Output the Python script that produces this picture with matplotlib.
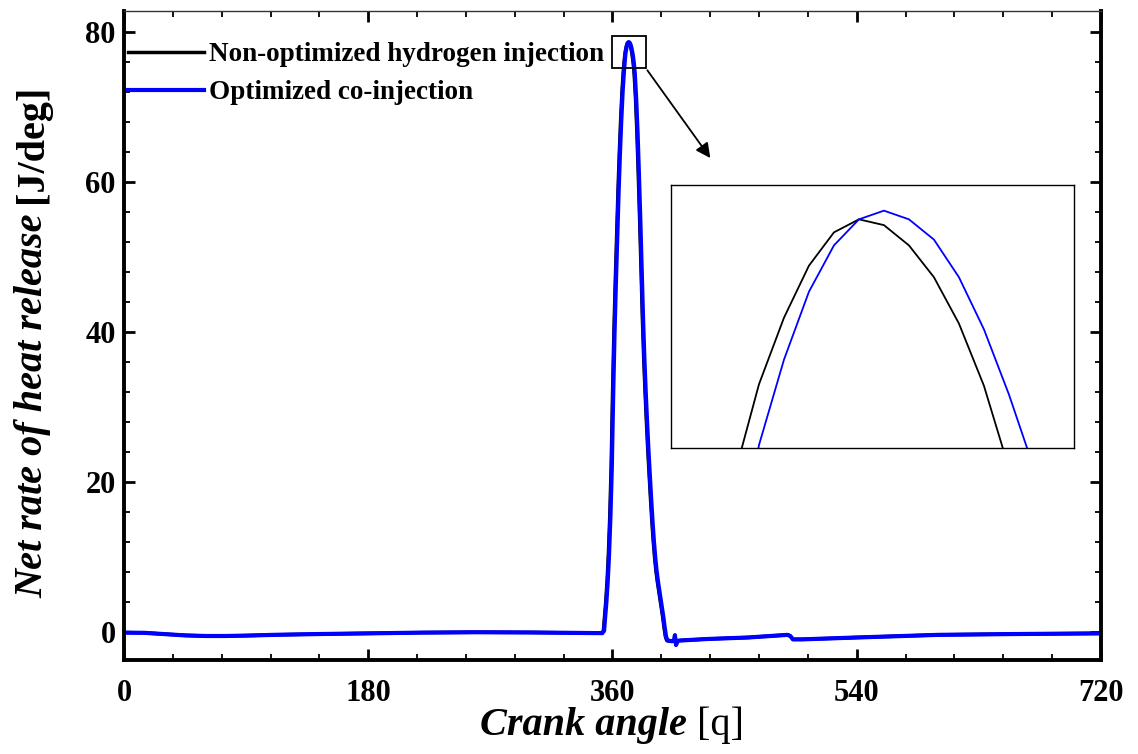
import matplotlib
matplotlib.use("Agg")
import matplotlib.pyplot as plt
from matplotlib.patches import Rectangle
from matplotlib.ticker import MultipleLocator
from matplotlib.transforms import IdentityTransform
import numpy as np

plt.rcParams["font.family"] = "serif"
plt.rcParams["font.serif"] = ["Liberation Serif", "DejaVu Serif"]
plt.rcParams["font.weight"] = "bold"

# baseline before and after combustion (shared by both cases)
pre_ca = [0, 15, 30, 45, 60, 75, 90, 110, 140, 180, 220, 260, 300, 340]
pre_hrr = [-0.05, -0.08, -0.25, -0.42, -0.5, -0.5, -0.45, -0.35, -0.25, -0.15, -0.05, 0.0, -0.03, -0.1]
post_ca = [402, 404, 405.5, 406, 406.8, 408, 410, 430, 460, 489, 491, 493, 500, 540, 600, 650, 720]
post_hrr = [-1.15, -1.2, -1.0, -0.4, -1.7, -1.15, -1.1, -0.9, -0.7, -0.35, -0.5, -0.95, -0.95, -0.7, -0.35, -0.25, -0.15]

# combustion pulse, non-optimized hydrogen injection
h2_ca = [352, 353.3, 354, 355, 356, 357, 358, 359, 360, 361, 362, 363, 364, 365, 366, 367, 368, 368.5,
         369, 369.5, 370, 370.5, 371, 371.5, 372, 372.5, 373, 373.5, 374, 374.5, 375, 375.5, 376, 377,
         378, 379, 380, 381, 382, 383, 384, 385, 386, 387, 388, 389, 390, 391, 392, 393, 394, 395, 396,
         397, 398, 399, 400]
h2_hrr = [-0.12, 0.2, 1.8, 4.0, 6.8, 10.5, 15.5, 22.0, 31.5, 39.8, 46.5, 52.5, 58.6, 63.8, 68.3, 72.1, 74.9, 75.95,
          76.82, 77.46, 77.92, 78.28, 78.51, 78.60, 78.56, 78.42, 78.20, 77.88, 77.45, 76.88, 76.2, 75.4, 74.3, 71.0,
          66.5, 61.0, 55.0, 48.5, 42.0, 36.5, 32.0, 28.0, 24.3, 21.0, 17.8, 14.8, 12.2, 10.0, 8.2, 6.8, 5.6, 4.4, 3.2,
          2.0, 0.6, -0.6, -1.1]

# combustion pulse, optimized co-injection
co_ca = [352.5, 353.8, 354.5, 355.5, 356.5, 357.5, 358.5, 359.5, 360.5, 361.5, 362.5, 363.5, 364.5, 365.5, 366.5,
         367.5, 368.5, 369, 369.5, 370, 370.5, 371, 371.5, 372, 372.5, 373, 373.5, 374, 374.5, 375, 375.5, 376,
         376.5, 377.5, 378.5, 379.5, 380.5, 381.5, 382.5, 383.5, 384.5, 385.5, 386.5, 387.5, 388.5, 389.5, 390.5,
         391.5, 392.5, 393.5, 394.5, 395.5, 396.5, 397.5, 398.5, 399.5, 400.5]
co_hrr = [-0.12, 0.2, 1.8, 4.0, 6.8, 10.5, 15.5, 22.0, 31.5, 39.8, 46.5, 52.5, 58.6, 63.8, 68.3,
          72.1, 74.9, 76.0, 77.04, 77.63, 78.10, 78.42, 78.60, 78.66, 78.60, 78.46, 78.20, 77.84, 77.39, 76.88, 76.2, 75.4,
          74.3, 71.0, 66.5, 61.0, 55.0, 48.5, 42.0, 36.5, 32.0, 28.0, 24.3, 21.0, 17.8, 14.8, 12.2,
          10.0, 8.2, 6.8, 5.6, 4.4, 3.2, 2.0, 0.6, -0.6, -1.1]

labels = ["Non-optimized hydrogen injection", "Optimized co-injection"]
x_ticks = [0, 180, 360, 540, 720]
y_ticks = [0, 20, 40, 60, 80]
xlabel_parts = ["Crank angle ", "[q]"]
ylabel_parts = ["Net rate of heat release ", "[J/deg]"]

# zoom window drawn on the main plot and the view shown in the inset
zoom_box = (359.4, 75.2, 25.1, 4.3)
inset_xlim = (367.74, 375.80)
inset_ylim = (77.02, 78.837)

ca1 = np.array(pre_ca + h2_ca + post_ca)
q1 = np.array(pre_hrr + h2_hrr + post_hrr)
ca2 = np.array(pre_ca + co_ca + post_ca)
q2 = np.array(pre_hrr + co_hrr + post_hrr)

fig = plt.figure(figsize=(11.38, 7.54), dpi=100)
ax = fig.add_axes([0.10896, 0.12467, 0.85852, 0.86074])

ax.plot(ca1, q1, color="black", lw=2.5, label=labels[0])
ax.plot(ca2, q2, color="#0000ff", lw=3, label=labels[1])

ax.set_xlim(0, 720)
ax.set_ylim(-3.7, 82.8)
ax.set_xticks(x_ticks)
ax.set_yticks(y_ticks)
ax.xaxis.set_minor_locator(MultipleLocator(36))
ax.yaxis.set_minor_locator(MultipleLocator(4))
ax.tick_params(which="both", direction="in", top=True, right=True, labelsize=22)
ax.tick_params(which="major", length=8, width=2)
ax.tick_params(which="minor", length=4, width=1.3)
ax.tick_params(axis="x", which="major", pad=14)
ax.tick_params(axis="y", which="major", pad=6)
for side in ["left", "right", "bottom"]:
    ax.spines[side].set_linewidth(2.8)
ax.spines["top"].set_linewidth(1)
ax.spines["top"].set_color("#333333")

ax.legend(loc="upper left", bbox_to_anchor=(0.004, 0.952), frameon=False, fontsize=19.5,
          handlelength=2.8, handletextpad=0.18, borderpad=0, borderaxespad=0, labelspacing=0.48)

ax.add_patch(Rectangle(zoom_box[:2], zoom_box[2], zoom_box[3], fill=False, ec="black", lw=1.3, zorder=5))
ax.annotate("", xy=(433.3, 62.9), xytext=(zoom_box[0] + zoom_box[2], zoom_box[1]),
            arrowprops=dict(arrowstyle="-|>", color="black", lw=1.3, mutation_scale=22))

ins = fig.add_axes([0.5896, 0.4058, 0.3541, 0.3488])
ins.plot(ca1, q1, color="black", lw=1.3)
ins.plot(ca2, q2, color="#0000ff", lw=1.3)
ins.set_xlim(*inset_xlim)
ins.set_ylim(*inset_ylim)
ins.set_xticks([])
ins.set_yticks([])
for s in ins.spines.values():
    s.set_linewidth(1)


def mixed_label(parts, styles, center, base, rotation):
    # lay out text pieces with different styles end to end, centred on `center` (pixels)
    texts = [fig.text(0, 0, s, transform=IdentityTransform(), rotation=rotation,
                      rotation_mode="anchor", ha="left", va="baseline", fontsize=29, **st)
             for s, st in zip(parts, styles)]
    fig.canvas.draw()
    r = fig.canvas.get_renderer()
    lens = [t.get_window_extent(r).height if rotation else t.get_window_extent(r).width for t in texts]
    pos = center - sum(lens) / 2
    for t, ln in zip(texts, lens):
        t.set_position((base, pos) if rotation else (pos, base))
        pos += ln


mixed_label(xlabel_parts, [dict(weight="bold", style="italic"), dict(weight="normal")],
            center=612, base=19, rotation=0)
mixed_label(ylabel_parts, [dict(weight="bold", style="italic"), dict(weight="bold")],
            center=413, base=42, rotation=90)

fig.savefig("out.png", dpi=100)
